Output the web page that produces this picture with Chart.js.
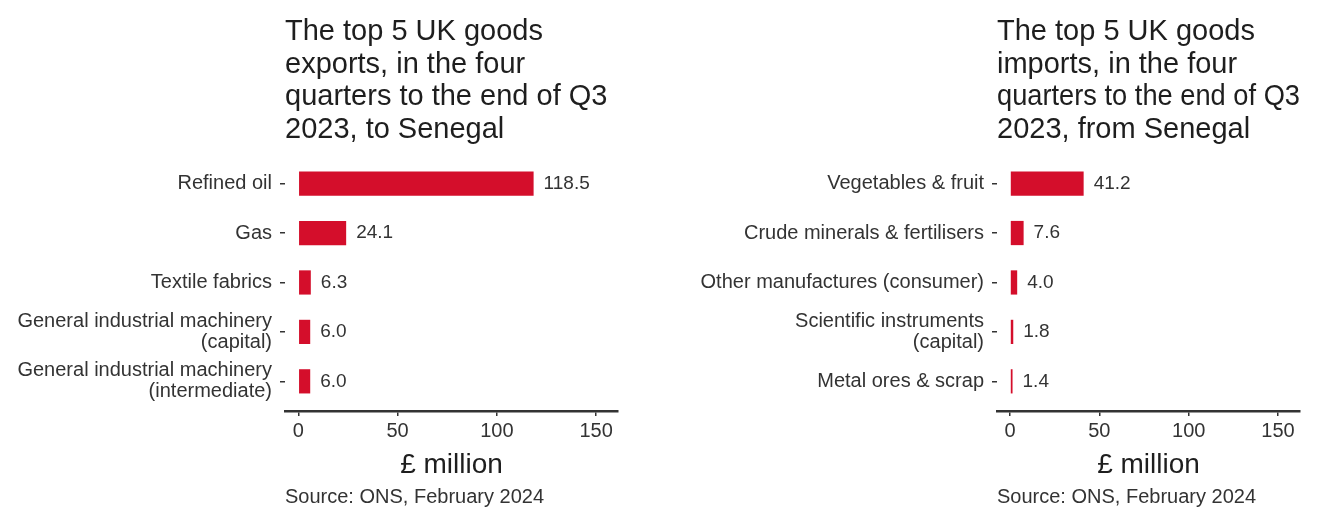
<!DOCTYPE html>
<html>
<head>
<meta charset="utf-8">
<script src="https://cdn.jsdelivr.net/npm/chart.js@4.4.1/dist/chart.umd.min.js"></script>
<style>
  html, body { margin: 0; padding: 0; background: #ffffff; }
  #wrap { position: relative; width: 1325px; height: 508px; overflow: hidden; }
  .panel { position: absolute; top: 0; height: 508px; }
</style>
</head>
<body>
<div id="wrap">
  <div class="panel" style="left:0;width:662px;"><canvas id="exportsChart"></canvas></div>
  <div class="panel" style="left:662px;width:663px;"><canvas id="importsChart"></canvas></div>
</div>
<script>
// ---- Data ----
const exportTitle = ['The top 5 UK goods', 'exports, in the four', 'quarters to the end of Q3', '2023, to Senegal'];
const exportCategories = ['Refined oil', 'Gas', 'Textile fabrics',
  ['General industrial machinery', '(capital)'],
  ['General industrial machinery', '(intermediate)']];
const exportValues = [118.5, 24.1, 6.3, 6.0, 6.0];

const importTitle = ['The top 5 UK goods', 'imports, in the four', 'quarters to the end of Q3', '2023, from Senegal'];
const importCategories = ['Vegetables & fruit', 'Crude minerals & fertilisers',
  'Other manufactures (consumer)', ['Scientific instruments', '(capital)'], 'Metal ores & scrap'];
const importValues = [41.2, 7.6, 4.0, 1.8, 1.4];

const xTickValues = [0, 50, 100, 150];
const xAxisTitle = '£ million';
const sourceText = 'Source: ONS, February 2024';

// ---- Styling ----
const FONT = "'Liberation Sans', Arial, sans-serif";
const BAR_COLOR = '#d40e2b';
const TEXT_COLOR = '#333333';
const AXIS_COLOR = '#333333';

const valueLabels = {
  id: 'valueLabels',
  afterDatasetsDraw(chart) {
    const ctx = chart.ctx;
    ctx.save();
    ctx.font = '19px ' + FONT;
    ctx.fillStyle = TEXT_COLOR;
    ctx.textAlign = 'left';
    ctx.textBaseline = 'middle';
    chart.data.datasets.forEach((ds, di) => {
      chart.getDatasetMeta(di).data.forEach((el, i) => {
        ctx.fillText(ds.data[i].x.toFixed(1), el.x + 10, el.y);
      });
    });
    ctx.restore();
  }
};

function makeChart(id, title, categories, values, opts) {
  const data = values.map((v, i) => ({ x: v, y: i }));
  return new Chart(document.getElementById(id), {
    type: 'bar',
    data: {
      datasets: [{
        data: data,
        backgroundColor: BAR_COLOR,
        borderWidth: 0,
        barPercentage: 0.49,
        categoryPercentage: 1.0
      }]
    },
    options: {
      indexAxis: 'y',
      responsive: true,
      maintainAspectRatio: false,
      animation: false,
      events: [],
      layout: { padding: { left: 0, right: opts.padRight, top: 0, bottom: 0 } },
      plugins: {
        legend: { display: false },
        tooltip: { enabled: false },
        title: {
          display: true,
          text: title,
          align: 'start',
          fullSize: false,
          color: '#1e1e1e',
          font: { family: FONT, size: 29, weight: 'normal', lineHeight: 1.12 },
          padding: { top: 16, bottom: 8 }
        },
        subtitle: {
          display: true,
          position: 'bottom',
          text: sourceText,
          align: 'start',
          fullSize: false,
          color: TEXT_COLOR,
          font: { family: FONT, size: 20, weight: 'normal', lineHeight: 1.1 },
          padding: { top: 0, bottom: 0 }
        }
      },
      scales: {
        x: {
          type: 'linear',
          min: opts.xMin,
          max: opts.xMax,
          afterBuildTicks(scale) { scale.ticks = xTickValues.map(v => ({ value: v })); },
          afterFit(scale) { scale.height = 75; },
          grid: { display: true, offset: false, drawOnChartArea: false, drawTicks: true, tickLength: 5, color: AXIS_COLOR, lineWidth: 1.5 },
          border: { display: true, color: AXIS_COLOR, width: 2.5 },
          ticks: {
            color: TEXT_COLOR,
            padding: 3,
            maxRotation: 0,
            font: { family: FONT, size: 20 },
            callback: v => String(v)
          },
          title: {
            display: true,
            text: xAxisTitle,
            color: '#1e1e1e',
            font: { family: FONT, size: 28, lineHeight: 1.2 },
            padding: { top: 0, bottom: 4 }
          }
        },
        y: {
          type: 'linear',
          offset: false,
          min: -0.6,
          max: categories.length - 0.4,
          reverse: true,
          afterBuildTicks(scale) { scale.ticks = categories.map((c, i) => ({ value: i })); },
          afterFit(scale) { scale.width = opts.yWidth; },
          grid: { display: true, offset: false, drawOnChartArea: false, drawTicks: true, tickLength: 5, color: AXIS_COLOR, lineWidth: 1.5 },
          border: { display: false },
          ticks: {
            color: TEXT_COLOR,
            padding: 8,
            font: { family: FONT, size: 20, lineHeight: 1.05 },
            callback: v => categories[v]
          }
        }
      }
    },
    plugins: [valueLabels]
  });
}

makeChart('exportsChart', exportTitle, exportCategories, exportValues,
  { xMin: -6.7, xMax: 161, yWidth: 285, padRight: 44 });
makeChart('importsChart', importTitle, importCategories, importValues,
  { xMin: -7.3, xMax: 162.3, yWidth: 335, padRight: 25 });
</script>
</body>
</html>
